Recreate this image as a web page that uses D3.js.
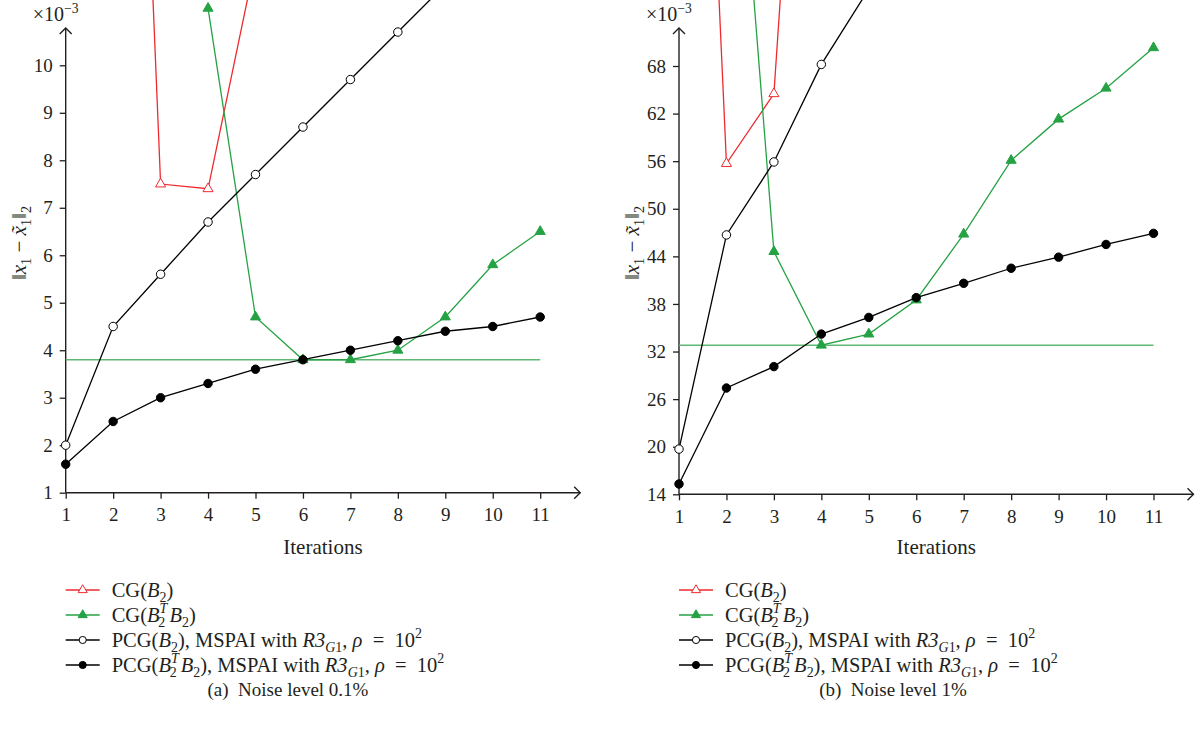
<!DOCTYPE html>
<html>
<head>
<meta charset="utf-8">
<script src="https://cdn.jsdelivr.net/npm/d3@7"></script>
<style>
  html, body { margin: 0; padding: 0; background: #fff; }
  svg { display: block; }
  text { font-family: "Liberation Serif", "DejaVu Serif", serif; fill: #231f20; }
</style>
</head>
<body>
<svg id="chart" width="1199" height="729"></svg>
<script>
// Iteration numbers shared by both panels
const iterations = [1, 2, 3, 4, 5, 6, 7, 8, 9, 10, 11];

// Panel (a): noise level 0.1%  (values ×10^-3; null = not plotted)
const a_cgB2      = [null, 31.7, 7.5, 7.4, 12.2, null, null, null, null, null, null];
const a_cgBtB     = [null, null, null, 11.2, 4.7, 3.8, 3.8, 4.0, 4.7, 5.8, 6.5];
const a_pcgB2     = [2.0, 4.5, 5.6, 6.7, 7.7, 8.7, 9.7, 10.7, 11.7, null, null];
const a_pcgBtB    = [1.6, 2.5, 3.0, 3.3, 3.6, 3.8, 4.0, 4.2, 4.4, 4.5, 4.7];
const a_level     = 3.8;
const a_yTicks    = [1, 2, 3, 4, 5, 6, 7, 8, 9, 10];

// Panel (b): noise level 1%
const b_cgB2      = [188, 55.7, 64.5, 153, null, null, null, null, null, null, null];
const b_cgBtB     = [null, 120, 44.6, 32.8, 34.2, 38.5, 46.8, 56.1, 61.3, 65.2, 70.3];
const b_pcgB2     = [19.7, 46.7, 55.9, 68.2, 77.7, null, null, null, null, null, null];
const b_pcgBtB    = [15.3, 27.4, 30.1, 34.2, 36.3, 38.8, 40.6, 42.5, 43.9, 45.5, 46.9];
const b_level     = 32.8;
const b_yTicks    = [14, 20, 26, 32, 38, 44, 50, 56, 62, 68];

const captions = ["(a)\u2002Noise level 0.1%", "(b)\u2002Noise level 1%"];

const RED = "#ee2a2f", GREEN = "#25a244", GREEN_LIGHT = "#5fb873", INK = "#231f20";

const svg = d3.select("#chart");

// Rich text: segments with italic / sub / sup placement
function rich(sel, segs, size) {
  let shift = 0;
  segs.forEach(s => {
    const target = s.pos === "sub" ? size * 0.26 : s.pos === "sup" ? -size * 0.42 : 0;
    const ts = sel.append("tspan").text(s.t)
      .attr("dy", target - shift)
      .style("font-size", (s.pos ? size * 0.68 : size) + "px");
    if (s.it) ts.style("font-style", "italic");
    if (s.dx) ts.attr("dx", s.dx);
    shift = target;
  });
}

function arrowHead(g, x, y, dir) {
  const p = d3.path();
  if (dir === "right") { p.moveTo(x - 6, y - 6); p.lineTo(x, y); p.lineTo(x - 6, y + 6); }
  else { p.moveTo(x - 6, y + 6); p.lineTo(x, y); p.lineTo(x + 6, y + 6); }
  g.append("path").attr("d", p.toString()).attr("fill", "none")
    .attr("stroke", INK).attr("stroke-width", 1.4);
}

function panel(cfg) {
  const g = svg.append("g");
  const x = d3.scaleLinear().domain([1, 11]).range([cfg.x0, cfg.x0 + 474.5]);
  const y = d3.scaleLinear().domain(cfg.yDomain).range([cfg.yBottom, cfg.yTop]);
  const axisY = y(cfg.yDomain[0]);

  // y axis
  const ya = g.append("g").attr("transform", `translate(${cfg.x0},0)`)
    .call(d3.axisLeft(y).tickValues(cfg.yTicks).tickSize(6).tickPadding(7).tickFormat(d3.format("d")));
  ya.select(".domain").remove();
  ya.selectAll(".tick line").attr("stroke", INK).attr("stroke-width", 1.3);
  ya.selectAll(".tick text").style("font-size", "19px").attr("fill", INK)
    .style("font-family", "'Liberation Serif', serif");

  // x axis
  const xa = g.append("g").attr("transform", `translate(0,${axisY})`)
    .call(d3.axisBottom(x).tickValues(iterations).tickSize(6).tickPadding(9).tickFormat(d3.format("d")));
  xa.select(".domain").remove();
  xa.selectAll(".tick line").attr("stroke", INK).attr("stroke-width", 1.3);
  xa.selectAll(".tick text").style("font-size", "19px").attr("fill", INK)
    .style("font-family", "'Liberation Serif', serif");

  // axis lines with open arrow heads
  const xEnd = cfg.x0 + 514.5, yEnd = 28;
  g.append("line").attr("x1", cfg.x0).attr("x2", xEnd).attr("y1", axisY).attr("y2", axisY)
    .attr("stroke", INK).attr("stroke-width", 1.4);
  g.append("line").attr("x1", cfg.x0).attr("x2", cfg.x0).attr("y1", axisY).attr("y2", yEnd)
    .attr("stroke", INK).attr("stroke-width", 1.4);
  arrowHead(g, xEnd, axisY, "right");
  arrowHead(g, cfg.x0, yEnd, "up");

  // exponent marker
  const ex = g.append("text").attr("x", cfg.x0 - 33).attr("y", 21).style("font-size", "20px");
  rich(ex, [{ t: "\u00d710" }, { t: "\u22123", pos: "sup" }], 20);

  // y title
  const yt = g.append("text")
    .attr("transform", `translate(${cfg.x0 - 40},243) rotate(-90)`)
    .attr("text-anchor", "middle").style("font-size", "21px");
  rich(yt, [
    { t: "\u2016" }, { t: "x", it: true }, { t: "1", pos: "sub" },
    { t: " \u2212 " }, { t: "x\u0303", it: true }, { t: "1", pos: "sub" },
    { t: "\u2016" }, { t: "2", pos: "sub" }
  ], 21);

  // x title
  g.append("text").attr("x", (cfg.x0 + xEnd) / 2).attr("y", 554)
    .attr("text-anchor", "middle").style("font-size", "21px").text("Iterations");

  const line = d3.line()
    .defined(d => d[1] != null)
    .x(d => x(d[0])).y(d => y(d[1]));

  // constant reference level
  g.append("path")
    .attr("d", line(iterations.map(i => [i, cfg.level])))
    .attr("fill", "none").attr("stroke", GREEN_LIGHT).attr("stroke-width", 1.6);

  const series = [
    { v: cfg.cgB2, color: RED, sym: d3.symbolTriangle, fill: "#fff" },
    { v: cfg.cgBtB, color: GREEN, sym: d3.symbolTriangle, fill: GREEN },
    { v: cfg.pcgB2, color: "#000", sym: d3.symbolCircle, fill: "#fff" },
    { v: cfg.pcgBtB, color: "#000", sym: d3.symbolCircle, fill: "#000" }
  ];

  series.forEach(s => {
    const pts = iterations.map((it, i) => [it, s.v[i]]);
    g.append("path").attr("d", line(pts))
      .attr("fill", "none").attr("stroke", s.color).attr("stroke-width", 1.3);
    const sym = d3.symbol().type(s.sym).size(s.sym === d3.symbolCircle ? 56 : 44);
    g.selectAll(null).data(pts.filter(p => p[1] != null)).join("path")
      .attr("d", sym)
      .attr("transform", p => `translate(${x(p[0])},${y(p[1])})`)
      .attr("fill", s.fill).attr("stroke", s.color).attr("stroke-width", 1);
  });

  // legend
  const eq = "\u2002=\u2002";
  const labels = [
    [{ t: "CG(" }, { t: "B", it: true }, { t: "2", pos: "sub" }, { t: ")" }],
    [{ t: "CG(" }, { t: "B", it: true }, { t: "T", pos: "sup", it: true },
     { t: "2", pos: "sub", dx: -9 }, { t: "\u2009" }, { t: "B", it: true }, { t: "2", pos: "sub" }, { t: ")" }],
    [{ t: "PCG(" }, { t: "B", it: true }, { t: "2", pos: "sub" }, { t: "), MSPAI with " },
     { t: "R3", it: true }, { t: "G", pos: "sub", it: true }, { t: "1", pos: "sub" }, { t: ", " },
     { t: "\u03c1", it: true }, { t: eq + "10" }, { t: "2", pos: "sup" }],
    [{ t: "PCG(" }, { t: "B", it: true }, { t: "T", pos: "sup", it: true },
     { t: "2", pos: "sub", dx: -9 }, { t: "\u2009" }, { t: "B", it: true }, { t: "2", pos: "sub" },
     { t: "), MSPAI with " },
     { t: "R3", it: true }, { t: "G", pos: "sub", it: true }, { t: "1", pos: "sub" }, { t: ", " },
     { t: "\u03c1", it: true }, { t: eq + "10" }, { t: "2", pos: "sup" }]
  ];
  series.forEach((s, i) => {
    const ly = 590 + i * 25;
    const lx = cfg.x0;
    g.append("line").attr("x1", lx).attr("x2", lx + 34).attr("y1", ly).attr("y2", ly)
      .attr("stroke", s.color).attr("stroke-width", 1.3);
    g.append("path").attr("d", d3.symbol().type(s.sym).size(s.sym === d3.symbolCircle ? 40 : 36))
      .attr("transform", `translate(${lx + 17},${ly})`)
      .attr("fill", s.fill).attr("stroke", s.color).attr("stroke-width", 1);
    const t = g.append("text").attr("x", lx + 46).attr("y", ly + 7).style("font-size", "20.5px");
    rich(t, labels[i], 20.5);
  });

  g.append("text").attr("x", cfg.capX).attr("y", 696)
    .attr("text-anchor", "middle").style("font-size", "19px").text(cfg.caption);
}

panel({
  x0: 65.7, yDomain: [1, 10], yBottom: 492.7, yTop: 65.3, yTicks: a_yTicks,
  cgB2: a_cgB2, cgBtB: a_cgBtB, pcgB2: a_pcgB2, pcgBtB: a_pcgBtB, level: a_level,
  caption: captions[0], capX: 288
});
panel({
  x0: 679, yDomain: [14, 68], yBottom: 494.3, yTop: 66, yTicks: b_yTicks,
  cgB2: b_cgB2, cgBtB: b_cgBtB, pcgB2: b_pcgB2, pcgBtB: b_pcgBtB, level: b_level,
  caption: captions[1], capX: 893
});
</script>
</body>
</html>
